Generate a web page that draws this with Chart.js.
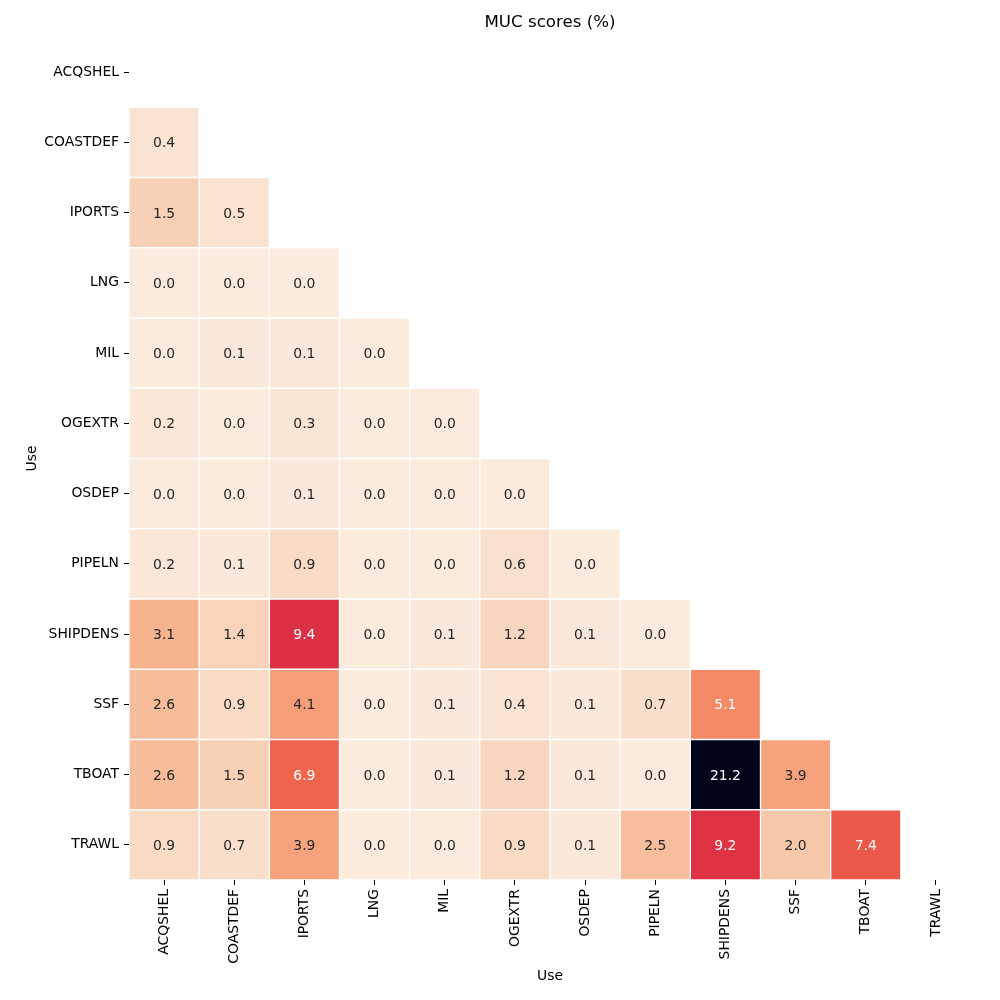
<!DOCTYPE html>
<html lang="en">
<head>
    <meta charset="UTF-8">
    <title>MUC scores</title>
    <script src="https://cdn.jsdelivr.net/npm/chart.js@4.4.1/dist/chart.umd.min.js"></script>
    <style>
        body { margin: 0; background: #fff; }
    </style>
</head>
<body>
<canvas id="heat" width="1000" height="1000"></canvas>

<script>
    // categories (same list on both axes)
    const uses = ['ACQSHEL', 'COASTDEF', 'IPORTS', 'LNG', 'MIL', 'OGEXTR', 'OSDEP',
                  'PIPELN', 'SHIPDENS', 'SSF', 'TBOAT', 'TRAWL'];

    // lower triangle values, one array per row (row i has i values)
    const rowACQSHEL  = [];
    const rowCOASTDEF = [0.4];
    const rowIPORTS   = [1.5, 0.5];
    const rowLNG      = [0.0, 0.0, 0.0];
    const rowMIL      = [0.0, 0.1, 0.1, 0.0];
    const rowOGEXTR   = [0.2, 0.0, 0.3, 0.0, 0.0];
    const rowOSDEP    = [0.0, 0.0, 0.1, 0.0, 0.0, 0.0];
    const rowPIPELN   = [0.2, 0.1, 0.9, 0.0, 0.0, 0.6, 0.0];
    const rowSHIPDENS = [3.1, 1.4, 9.4, 0.0, 0.1, 1.2, 0.1, 0.0];
    const rowSSF      = [2.6, 0.9, 4.1, 0.0, 0.1, 0.4, 0.1, 0.7, 5.1];
    const rowTBOAT    = [2.6, 1.5, 6.9, 0.0, 0.1, 1.2, 0.1, 0.0, 21.2, 3.9];
    const rowTRAWL    = [0.9, 0.7, 3.9, 0.0, 0.0, 0.9, 0.1, 2.5, 9.2, 2.0, 7.4];

    const rows = [rowACQSHEL, rowCOASTDEF, rowIPORTS, rowLNG, rowMIL, rowOGEXTR, rowOSDEP,
                  rowPIPELN, rowSHIPDENS, rowSSF, rowTBOAT, rowTRAWL];

    const vmax = Math.max(...rows.flat());

    // rocket colormap stops (dark -> light); used reversed
    const rocket = [
        [0.000, [3, 5, 26]],
        [0.143, [53, 25, 62]],
        [0.286, [112, 31, 87]],
        [0.429, [173, 23, 89]],
        [0.571, [225, 51, 66]],
        [0.714, [243, 118, 81]],
        [0.857, [246, 180, 143]],
        [1.000, [250, 235, 221]]
    ];

    function rocketRGB(t) {
        for (let i = 1; i < rocket.length; i++) {
            if (t <= rocket[i][0]) {
                const [t0, c0] = rocket[i - 1];
                const [t1, c1] = rocket[i];
                const f = (t - t0) / (t1 - t0);
                return c0.map((v, k) => Math.round(v + (c1[k] - v) * f));
            }
        }
        return rocket[rocket.length - 1][1];
    }

    function cellRGB(v) {
        return rocketRGB(1 - v / vmax);
    }

    function luminance(rgb) {
        const lin = rgb.map(c => {
            c = c / 255;
            return c <= 0.03928 ? c / 12.92 : Math.pow((c + 0.055) / 1.055, 2.4);
        });
        return 0.2126 * lin[0] + 0.7152 * lin[1] + 0.0722 * lin[2];
    }

    const datasets = rows.map((vals, r) => ({
        label: uses[r],
        data: uses.map((_, c) => c < r ? [r - 0.5, r + 0.5] : null),
        backgroundColor: uses.map((_, c) => {
            if (c >= r) return 'rgba(0,0,0,0)';
            const rgb = cellRGB(vals[c]);
            return 'rgb(' + rgb.join(',') + ')';
        }),
        borderColor: '#ffffff',
        borderWidth: 1,
        borderSkipped: false,
        grouped: false,
        barPercentage: 1,
        categoryPercentage: 1
    }));

    // write the value in each cell
    const cellText = {
        id: 'cellText',
        afterDatasetsDraw(chart) {
            const ctx = chart.ctx;
            const xs = chart.scales.x, ys = chart.scales.y;
            ctx.save();
            ctx.font = '13.9px "DejaVu Sans"';
            ctx.textAlign = 'center';
            ctx.textBaseline = 'middle';
            rows.forEach((vals, r) => {
                vals.forEach((v, c) => {
                    const lum = luminance(cellRGB(v));
                    ctx.fillStyle = lum > 0.408 ? 'rgb(38,38,38)' : '#ffffff';
                    ctx.fillText(v.toFixed(1), xs.getPixelForValue(c), ys.getPixelForValue(r) + 1.5);
                });
            });
            ctx.restore();
        }
    };

    Chart.defaults.font.family = '"DejaVu Sans", sans-serif';
    Chart.defaults.color = '#000';

    new Chart(document.getElementById('heat'), {
        type: 'bar',
        data: { labels: uses, datasets: datasets },
        options: {
            responsive: false,
            animation: false,
            layout: { padding: { left: 0, right: 29, top: 0, bottom: 0 } },
            plugins: {
                legend: { display: false },
                tooltip: { enabled: false },
                title: {
                    display: true,
                    fullSize: false,
                    text: 'MUC scores (%)',
                    color: '#000',
                    font: { size: 16.67, weight: 'normal' },
                    padding: { top: 13, bottom: 4 }
                }
            },
            scales: {
                x: {
                    type: 'category',
                    offset: true,
                    border: { display: false },
                    grid: { display: true, offset: false, drawOnChartArea: false, drawTicks: true, tickLength: 5, tickColor: '#000' },
                    ticks: { autoSkip: false, minRotation: 90, maxRotation: 90, padding: 4, font: { size: 13.9 } },
                    title: { display: true, text: 'Use', font: { size: 13.9 }, padding: { top: 0, bottom: 15 } },
                    afterFit: s => { s.height = 120; }
                },
                y: {
                    type: 'linear',
                    min: -0.5,
                    max: 11.5,
                    reverse: true,
                    border: { display: false },
                    grid: { display: true, drawOnChartArea: false, drawTicks: true, tickLength: 5, tickColor: '#000' },
                    afterBuildTicks: s => { s.ticks = uses.map((_, i) => ({ value: i })); },
                    ticks: { autoSkip: false, padding: 5, font: { size: 13.9 }, callback: v => uses[v] },
                    title: { display: true, text: 'Use', font: { size: 13.9 }, padding: { top: 24, bottom: 0 } },
                    afterFit: s => { s.width = 129; }
                }
            }
        },
        plugins: [cellText]
    });
</script>
</body>
</html>
